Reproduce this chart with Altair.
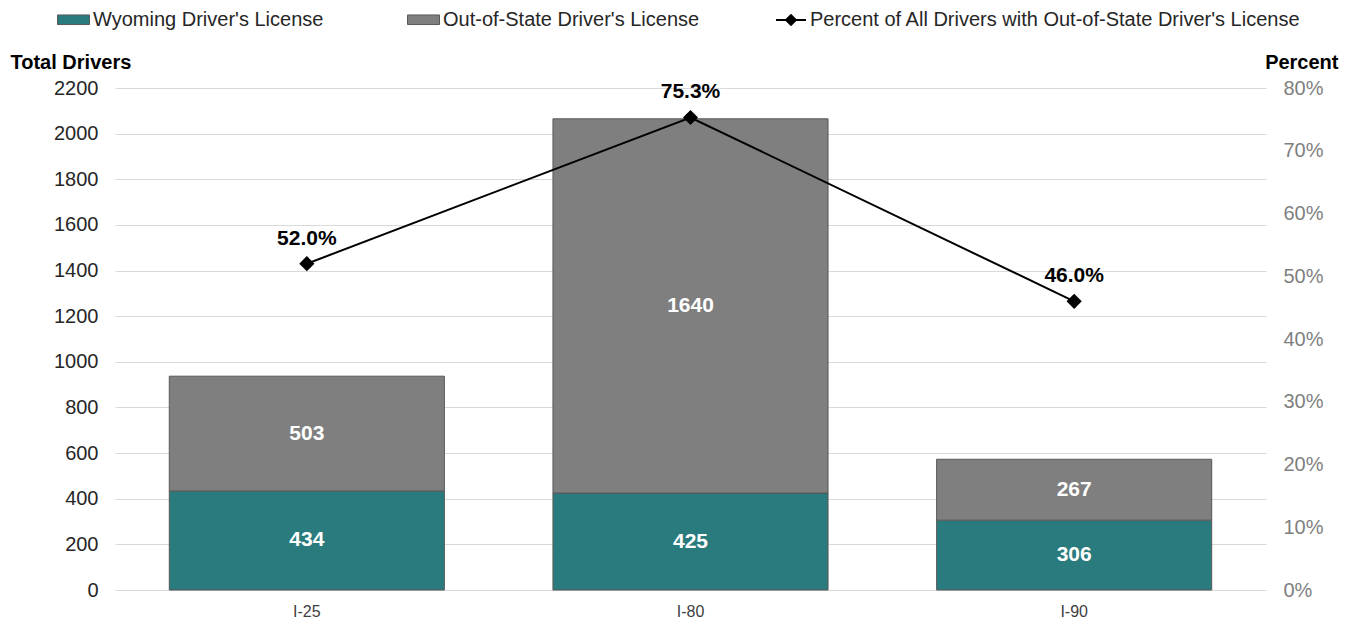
import altair as alt
import pandas as pd

roads = ["I-25", "I-80", "I-90"]
wyoming = [434, 425, 306]
out_of_state = [503, 1640, 267]
pct_out = [0.520, 0.753, 0.460]

series_names = ["Wyoming Driver's License", "Out-of-State Driver's License"]
line_name = "Percent of All Drivers with Out-of-State Driver's License"
left_ticks = list(range(0, 2201, 200))
right_ticks = [0, 0.1, 0.2, 0.3, 0.4, 0.5, 0.6, 0.7, 0.8]

rows = []
for i, r in enumerate(roads):
    rows.append({"road": r, "series": series_names[0], "value": wyoming[i], "order": 0})
    rows.append({"road": r, "series": series_names[1], "value": out_of_state[i], "order": 1})
bars_df = pd.DataFrame(rows)
line_df = pd.DataFrame({"road": roads, "pct": pct_out, "series": [line_name] * 3})

FONT = "Liberation Sans"

x_enc = alt.X(
    "road:N", sort=roads,
    scale=alt.Scale(paddingInner=0.283, paddingOuter=0.1415),
    axis=alt.Axis(title=None, labelAngle=0, labelFontSize=16, labelColor="#404040",
                  labelPadding=13, ticks=False, domain=False, grid=False),
)

yleft = alt.Scale(domain=[0, 2200], nice=False, zero=True)
yright = alt.Scale(domain=[0, 0.8], nice=False, zero=True)

left_axis = alt.Axis(values=left_ticks, format="d", title="Total Drivers", titleAngle=0,
                     titleAlign="left", titleBaseline="middle", titleX=-105, titleY=-26,
                     titleFontSize=20, titleFontWeight="bold", titleColor="#000000",
                     labelFontSize=20, labelColor="#262626", labelPadding=17,
                     ticks=False, domain=False, grid=True, gridColor="#d9d9d9",
                     gridWidth=1)

right_axis = alt.Axis(orient="right", values=right_ticks, format=".0%", title="Percent",
                      titleAngle=0, titleAlign="right", titleBaseline="middle",
                      titleX=72, titleY=-26, titleFontSize=20, titleFontWeight="bold",
                      titleColor="#000000", labelFontSize=20, labelColor="#7f7f7f",
                      labelPadding=17, ticks=False, domain=False, grid=False)

bars = alt.Chart(bars_df).mark_bar(stroke="#595959", strokeWidth=1).encode(
    x=x_enc,
    y=alt.Y("value:Q", stack="zero", scale=yleft, axis=left_axis),
    fill=alt.Fill("series:N", scale=alt.Scale(domain=series_names, range=["#2A7B7E", "#7F7F7F"]),
                  legend=alt.Legend(orient="none", legendX=-58, legendY=-85, direction="horizontal",
                                    title=None, symbolType="M-1,-0.3H1V0.3H-1Z", symbolSize=1024,
                                    symbolStrokeColor="#595959", symbolStrokeWidth=1,
                                    labelFontSize=20, labelColor="#262626", labelOffset=3,
                                    labelLimit=600, columnPadding=81)),
    order=alt.Order("order:Q"),
)

bar_text = alt.Chart(bars_df).transform_stack(
    stack="value", groupby=["road"], as_=["y0", "y1"],
    sort=[alt.SortField("order", order="ascending")],
).transform_calculate(
    mid="(datum.y0 + datum.y1) / 2"
).mark_text(color="white", fontWeight="bold", fontSize=21, baseline="middle").encode(
    x=x_enc,
    y=alt.Y("mid:Q", scale=yleft, axis=left_axis),
    text=alt.Text("value:Q"),
)

line = alt.Chart(line_df).mark_line(strokeWidth=2).encode(
    x=x_enc,
    y=alt.Y("pct:Q", scale=yright, axis=right_axis),
    stroke=alt.Stroke("series:N", scale=alt.Scale(domain=[line_name], range=["#000000"]),
                      legend=alt.Legend(orient="none", legendX=660, legendY=-84, title=None,
                                        symbolType="M-1,0H1M-0.33,0L0,-0.33L0.33,0L0,0.33Z",
                                        symbolSize=900, symbolStrokeWidth=2,
                                        symbolFillColor="#000000",
                                        labelFontSize=20, labelColor="#262626", labelOffset=3,
                                        labelLimit=700)),
)

points = alt.Chart(line_df).mark_point(shape="diamond", filled=True, color="#000000",
                                       size=230, opacity=1).encode(
    x=x_enc,
    y=alt.Y("pct:Q", scale=yright, axis=right_axis),
)

pct_text = alt.Chart(line_df).mark_text(fontWeight="bold", fontSize=21, color="#000000",
                                        baseline="alphabetic", dy=-19).encode(
    x=x_enc,
    y=alt.Y("pct:Q", scale=yright, axis=right_axis),
    text=alt.Text("pct:Q", format=".1%"),
)

left_layer = alt.layer(bars, bar_text)
right_layer = alt.layer(line, points, pct_text)

chart = alt.layer(left_layer, right_layer).resolve_scale(y="independent").properties(
    width=1151, height=502,
    autosize=alt.AutoSizeParams(type="none"),
    padding={"left": 107, "top": 80, "right": 80, "bottom": 30},
).configure(font=FONT).configure_view(stroke=None)

chart.save("out.html", embed_options={"renderer": "svg", "actions": False})
